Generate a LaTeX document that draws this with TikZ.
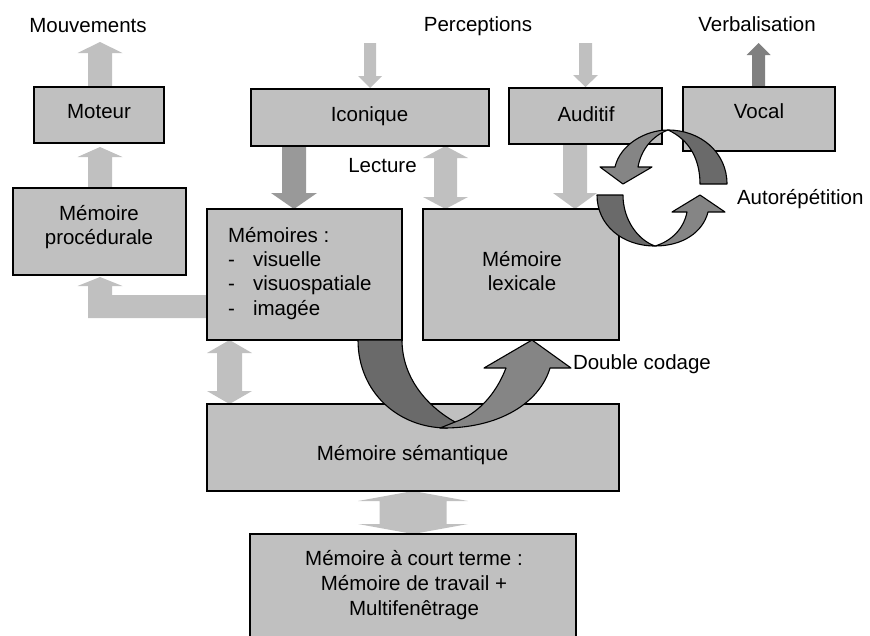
\documentclass[tikz,border=0pt]{standalone}
\usepackage{fontspec}
\setmainfont{Liberation Sans}
\usetikzlibrary{calc}
\definecolor{boxgray}{HTML}{C0C0C0}
\definecolor{lightarr}{HTML}{C0C0C0}
\definecolor{midarr}{HTML}{999999}
\definecolor{darkarr}{HTML}{808080}
\definecolor{ribdark}{HTML}{6A6A6A}
\definecolor{riblight}{HTML}{858585}
\newcommand\lblfont{\fontsize{20.5pt}{24.5pt}\selectfont}
% vertical block arrow: style, tail, tip, shaft half width, head half width, head length
\newcommand\vbarrow[6]{%
  \fill[#1] let \p1=#2, \p2=#3, \n1={sign(\y2-(\y1))} in
    (\x2-#4pt,\y1) -- (\x2-#4pt,{\y2-(\n1)*#6pt}) -- (\x2-#5pt,{\y2-(\n1)*#6pt}) -- (\x2,\y2)
    -- (\x2+#5pt,{\y2-(\n1)*#6pt}) -- (\x2+#4pt,{\y2-(\n1)*#6pt}) -- (\x2+#4pt,\y1) -- cycle;}
% vertical double block arrow
\newcommand\vbdarrow[6]{%
  \fill[#1] let \p1=#2, \p2=#3, \n1={sign(\y2-(\y1))} in
    (\x1,\y1) -- (\x1+#5pt,{\y1+(\n1)*#6pt}) -- (\x1+#4pt,{\y1+(\n1)*#6pt})
    -- (\x1+#4pt,{\y2-(\n1)*#6pt}) -- (\x1+#5pt,{\y2-(\n1)*#6pt}) -- (\x1,\y2)
    -- (\x1-#5pt,{\y2-(\n1)*#6pt}) -- (\x1-#4pt,{\y2-(\n1)*#6pt})
    -- (\x1-#4pt,{\y1+(\n1)*#6pt}) -- (\x1-#5pt,{\y1+(\n1)*#6pt}) -- cycle;}
\tikzset{
  box/.style={draw=black, line width=1.3pt, fill=boxgray, inner sep=0pt, outer sep=0pt, anchor=north west},
  lbl/.style={font=\lblfont, inner sep=0pt, outer sep=0pt},
  ribbon/.style={draw=black, line width=1.1pt, line join=round}
}
\begin{document}
\begin{tikzpicture}[x=1pt,y=-1pt]
\useasboundingbox (0,0) rectangle (870,635);
\clip (0,0) rectangle (870,635);

% boxes (named first, drawn later on top of arrows)
\path
  node[box, draw=none, fill=none, minimum width=130pt, minimum height=56pt] (moteur) at (34,87) {}
  node[box, draw=none, fill=none, minimum width=173pt, minimum height=87pt] (proc) at (13,188) {}
  node[box, draw=none, fill=none, minimum width=238pt, minimum height=57pt] (icon) at (251,89) {}
  node[box, draw=none, fill=none, minimum width=153pt, minimum height=56pt] (audit) at (509,88) {}
  node[box, draw=none, fill=none, minimum width=152pt, minimum height=64pt] (vocal) at (683,87) {}
  node[box, draw=none, fill=none, minimum width=195pt, minimum height=131pt] (mems) at (207,209) {}
  node[box, draw=none, fill=none, minimum width=196pt, minimum height=131pt] (lex) at (423,209) {}
  node[box, draw=none, fill=none, minimum width=412pt, minimum height=87pt] (sem) at (207,404) {}
  node[box, draw=none, fill=none, minimum width=326pt, minimum height=130pt] (ct) at (250,534) {};

% arrow end points
\coordinate (mouvtip) at (100,42);
\coordinate (mottip) at (100,147);
\coordinate (perc1) at (370,43);
\coordinate (icontip) at (370,88);
\coordinate (perc2) at (585.5,43);
\coordinate (audtip) at (585.5,87);
\coordinate (verbtip) at (758.5,43);
\coordinate (memtip) at (294,209);
\coordinate (lecx) at (445.5,0);
\coordinate (lextip) at (575,209);
\coordinate (msx) at (229.5,0);

% light block arrows
\vbarrow{lightarr}{(moteur.north)}{(mouvtip)}{12}{22.5}{11}
\vbarrow{lightarr}{(proc.north)}{(mottip)}{12}{22.5}{10}
\fill[lightarr] (mems.west |- 0,295) -- (112,295) -- (112,286) -- (122.5,286) -- (100,277)
  -- (77.5,286) -- (88,286) -- (88,318) -- (mems.west |- 0,318) -- cycle;
\vbarrow{lightarr}{(perc1)}{(icontip)}{6}{12}{12}
\vbarrow{lightarr}{(perc2)}{(audtip)}{6.5}{12.5}{12}
\vbarrow{darkarr}{(vocal.north)}{(verbtip)}{6.5}{12}{12}
\vbarrow{midarr}{(icon.south)}{(memtip)}{12}{23}{16}
\vbdarrow{lightarr}{(lecx |- icon.south)}{(lecx |- lex.north)}{11.5}{22.5}{12}
\vbarrow{lightarr}{(audit.south)}{(lextip)}{12}{22}{16}
\vbdarrow{lightarr}{(msx |- mems.south)}{(msx |- sem.north)}{12.5}{22.5}{13}
\vbdarrow{lightarr}{(sem.south)}{(ct.north)}{33.5}{55}{10}

% boxes drawn on top
\foreach \b in {moteur,proc,icon,audit,vocal,mems,lex,sem,ct}
  \draw[line width=1.3pt, fill=boxgray] (\b.north west) rectangle (\b.south east);

% Double codage ribbon
\path[ribbon, fill=ribdark] (358,340) .. controls (358,392) and (398,428) .. (447,428)
  -- (455,422) .. controls (425,405) and (402,376) .. (402,340) -- cycle;
\path[ribbon, fill=riblight] (440,428) .. controls (500,429) and (540,402) .. (550,368)
  -- (571,368) -- (532,340) -- (484,368) -- (506,368)
  .. controls (496,394) and (478,414) .. (455,422) -- cycle;

% Autorepetition cycle
\path[ribbon, fill=ribdark] (668,130) .. controls (700,130) and (727,152) .. (727,184)
  -- (700,184) .. controls (700,160) and (690,140) .. (668,130) -- cycle;
\path[ribbon, fill=riblight] (668,130) .. controls (645,130) and (620,145) .. (615,167)
  -- (600,167) -- (623,184) -- (652,167) -- (638,167)
  .. controls (641,150) and (652,136) .. (668,130) -- cycle;
\path[ribbon, fill=ribdark] (597,195) .. controls (597,225) and (622,246) .. (655,246)
  .. controls (638,240) and (623,220) .. (623,195) -- cycle;
\path[ribbon, fill=riblight] (655,246) .. controls (683,246) and (703,232) .. (708,212)
  -- (725,212) -- (700,195) -- (672,212) -- (687,212)
  .. controls (684,228) and (672,241) .. (655,246) -- cycle;

% labels
\node[lbl, anchor=base] (tMouv) at (88,32) {Mouvements};
\node[lbl, anchor=base] (tPerc) at (478,31) {Perceptions};
\node[lbl, anchor=base] (tVerb) at (757,31) {Verbalisation};
\node[lbl, anchor=base] (tMot) at (99,118) {Moteur};
\node[lbl, anchor=base] (tProc1) at (99,220) {Mémoire};
\node[lbl, anchor=base] (tProc2) at (99,244.5) {procédurale};
\node[lbl, anchor=base] (tIcon) at (369.5,121) {Iconique};
\node[lbl, anchor=base] (tAud) at (586,121) {Auditif};
\node[lbl, anchor=base] (tVoc) at (759,118) {Vocal};
\node[lbl, anchor=base] (tLec) at (382.5,172) {Lecture};
\node[lbl, anchor=base west] (tMem0) at (228,242) {Mémoires :};
\node[lbl, anchor=base west] (tD1) at (228,266) {-};
\node[lbl, anchor=base west] (tMem1) at (253,266) {visuelle};
\node[lbl, anchor=base west] (tD2) at (228,290.5) {-};
\node[lbl, anchor=base west] (tMem2) at (253,290.5) {visuospatiale};
\node[lbl, anchor=base west] (tD3) at (228,315) {-};
\node[lbl, anchor=base west] (tMem3) at (253,315) {imagée};
\node[lbl, anchor=base] (tLex1) at (522,266) {Mémoire};
\node[lbl, anchor=base] (tLex2) at (522,290.5) {lexicale};
\node[lbl, anchor=base] (tSem) at (412.5,460) {Mémoire sémantique};
\node[lbl, anchor=base] (tCt1) at (414,565) {Mémoire à court terme :};
\node[lbl, anchor=base] (tCt2) at (414,590) {Mémoire de travail +};
\node[lbl, anchor=base] (tCt3) at (414,615) {Multifenêtrage};
\node[lbl, anchor=base west] (tDbl) at (573,369) {Double codage};
\node[lbl, anchor=base west] (tAuto) at (737,204) {Autorépétition};
\end{tikzpicture}
\end{document}
